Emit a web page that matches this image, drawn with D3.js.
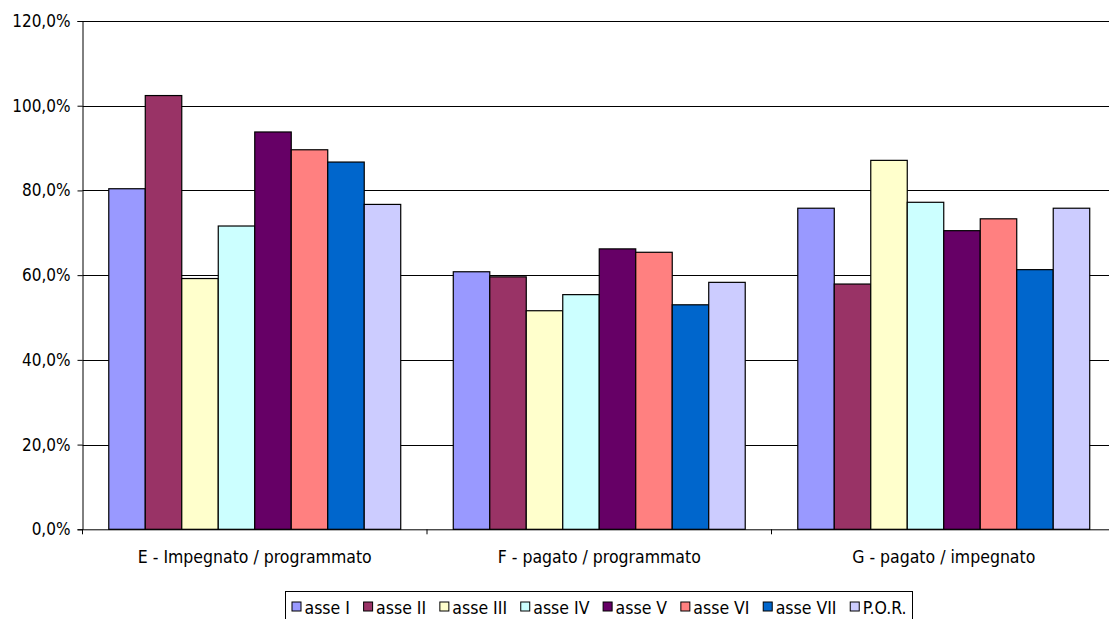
<!DOCTYPE html>
<html>
<head>
<meta charset="utf-8">
<script src="https://cdn.jsdelivr.net/npm/d3@7"></script>
<style>
  html, body { margin: 0; padding: 0; background: #fff; overflow: hidden; }
  svg { display: block; }
  text { font-family: "DejaVu Sans Condensed", "DejaVu Sans", sans-serif; fill: #000; }
</style>
</head>
<body>
<svg id="chart" width="1109" height="619"></svg>
<script>
// Indicatori di avanzamento per asse
const categories = ["E - Impegnato / programmato", "F - pagato / programmato", "G - pagato / impegnato"];
const seriesNames = ["asse I", "asse II", "asse III", "asse IV", "asse V", "asse VI", "asse VII", "P.O.R."];
const asseI   = [80.4, 60.8, 75.8];
const asseII  = [102.4, 59.6, 57.9];
const asseIII = [59.2, 51.6, 87.1];
const asseIV  = [71.6, 55.4, 77.2];
const asseV   = [93.8, 66.2, 70.5];
const asseVI  = [89.6, 65.4, 73.3];
const asseVII = [86.7, 53.0, 61.3];
const por     = [76.7, 58.3, 75.8];
const yTicks  = [0, 20, 40, 60, 80, 100, 120];
const colors  = ["#9999FF", "#993366", "#FFFFCC", "#CCFFFF", "#660066", "#FF8080", "#0066CC", "#CCCCFF"];

const seriesValues = [asseI, asseII, asseIII, asseIV, asseV, asseVI, asseVII, por];

const svg = d3.select("#chart");
const plot = { left: 82.5, right: 1116, top: 21, bottom: 529.3 };

const x0 = d3.scaleBand().domain(categories).range([plot.left, plot.right]).paddingInner(0).paddingOuter(0);
const x1 = d3.scaleBand().domain(seriesNames).range([0, x0.bandwidth()]).paddingInner(0).paddingOuter(0.72);
const y = d3.scaleLinear().domain([0, 120]).range([plot.bottom, plot.top]);

const fmt = v => d3.format(".1f")(v).replace(".", ",") + "%";

// horizontal gridlines
svg.append("g")
  .selectAll("line")
  .data(yTicks.filter(t => t > 0))
  .join("line")
  .attr("x1", plot.left).attr("x2", 1109)
  .attr("y1", d => Math.round(y(d)) + 0.5).attr("y2", d => Math.round(y(d)) + 0.5)
  .attr("stroke", "#000").attr("stroke-width", 1);

// bars
const groups = svg.append("g")
  .selectAll("g")
  .data(categories)
  .join("g")
  .attr("transform", d => `translate(${x0(d)},0)`);

groups.selectAll("rect")
  .data((c, ci) => seriesNames.map((s, si) => ({ s, si, v: seriesValues[si][ci] })))
  .join("rect")
  .attr("x", d => x1(d.s))
  .attr("y", d => y(d.v))
  .attr("width", x1.bandwidth())
  .attr("height", d => y(0) - y(d.v))
  .attr("fill", d => colors[d.si])
  .attr("stroke", "#000")
  .attr("stroke-width", 1.2);

// y axis
const yAxis = d3.axisLeft(y).tickValues(yTicks).tickSize(5).tickPadding(7).tickFormat(fmt);
const yg = svg.append("g").attr("transform", `translate(${plot.left},0)`).call(yAxis);
yg.select(".domain").attr("stroke", "#000");
yg.selectAll(".tick line").attr("stroke", "#000");
yg.selectAll("text").style("font-size", "17px").attr("fill", "#000");

// x axis
const xAxis = d3.axisBottom(x0).tickSize(0).tickPadding(21);
const xg = svg.append("g").attr("transform", `translate(0,${plot.bottom})`).call(xAxis);
xg.select(".domain").attr("stroke", "#000");
xg.selectAll("text").style("font-size", "17.5px").attr("fill", "#000");
// category separators
xg.append("g").selectAll("line")
  .data(categories)
  .join("line")
  .attr("x1", d => x0(d)).attr("x2", d => x0(d))
  .attr("y1", 0).attr("y2", 5)
  .attr("stroke", "#000");

// legend
const legendW = 627;
const legend = svg.append("g").attr("transform", "translate(285.5,591.5)");
legend.append("rect")
  .attr("width", legendW).attr("height", 40)
  .attr("fill", "#fff").attr("stroke", "#000").attr("stroke-width", 1);

const items = legend.selectAll("g.item")
  .data(seriesNames)
  .join("g")
  .attr("class", "item");

items.append("rect")
  .attr("x", 0.5).attr("y", 10.5)
  .attr("width", 9).attr("height", 9)
  .attr("fill", (d, i) => colors[i]).attr("stroke", "#000").attr("stroke-width", 1);
const labels = items.append("text")
  .attr("x", 13).attr("y", 22.5)
  .style("font-size", "17.5px")
  .text(d => d);

// spread the entries evenly across the legend box
const widths = labels.nodes().map(n => 13 + n.getComputedTextLength());
const pad = 6;
const gap = (legendW - 2 * pad - d3.sum(widths)) / (widths.length - 1);
let cx = pad;
items.attr("transform", (d, i) => {
  const t = `translate(${cx},0)`;
  cx += widths[i] + gap;
  return t;
});
</script>
</body>
</html>
